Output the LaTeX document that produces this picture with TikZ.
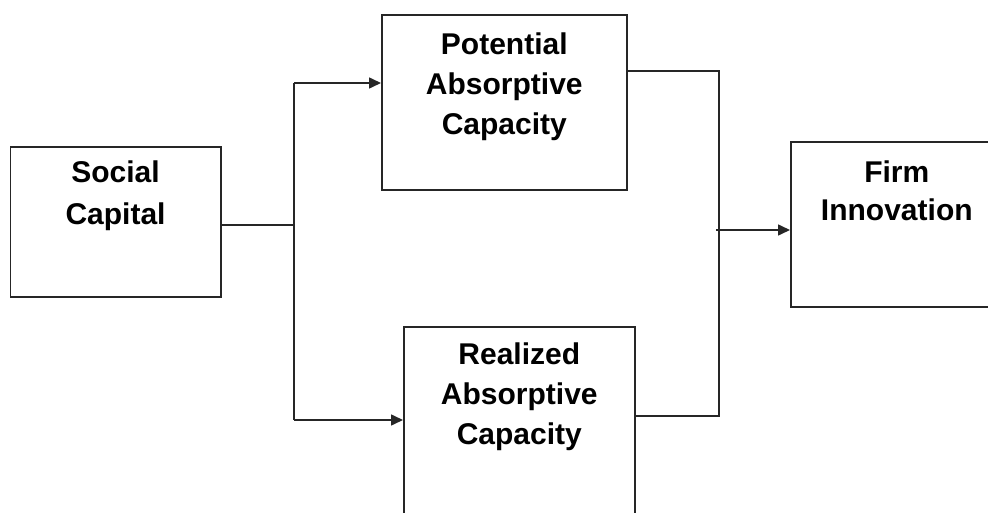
\documentclass[tikz,border=0pt]{standalone}
\usepackage{fontspec}
\setmainfont{Liberation Sans}
\usetikzlibrary{arrows.meta}
\begin{document}
\begin{tikzpicture}[x=1pt,y=-1pt,
  box/.style={draw=black!85, line width=1.6pt, rectangle, inner sep=0pt, anchor=north west},
  lbl/.style={anchor=north, align=center, inner sep=0pt, text=black,
    font=\fontsize{30}{40}\selectfont\bfseries},
  conn/.style={draw=black!85, line width=1.6pt},
  arr/.style={conn, -{Triangle[length=12pt,width=11pt]}}]
\useasboundingbox (0,0) rectangle (988,513);
\clip (0,0) rectangle (988,513);
% boxes
\node[box, minimum width=210.5pt, minimum height=150pt] (sc) at (9.5,146) {};
\node[box, minimum width=245pt, minimum height=175pt] (pac) at (381,14) {};
\node[box, minimum width=231pt, minimum height=240pt] (rac) at (403,326) {};
\node[box, minimum width=212pt, minimum height=165pt] (fi) at (790,141) {};
% labels
\node[lbl, font=\fontsize{30}{42}\selectfont\bfseries] (scl) at ([yshift=-15pt]sc.north) {Social\\Capital};
\node[lbl] (pacl) at ([yshift=-19pt]pac.north) {Potential\\Absorptive\\Capacity};
\node[lbl] (racl) at ([yshift=-17pt]rac.north) {Realized\\Absorptive\\Capacity};
\node[lbl, font=\fontsize{30}{38}\selectfont\bfseries] (fil) at ([yshift=-20pt]fi.north) {Firm\\Innovation};
% junction coordinates
\coordinate (j1) at (294,225);
\coordinate (jt) at (294,83);
\coordinate (jb) at (294,420);
\coordinate (k1) at (719,71);
\coordinate (k2) at (719,416);
\coordinate (k3) at (716,230);
% connectors
\draw[conn] (sc.east |- j1) -- (j1);
\draw[conn] (jt) -- (jb);
\draw[arr] (jt) -- (pac.west |- jt);
\draw[arr] (jb) -- (rac.west |- jb);
\draw[conn] (pac.east |- k1) -- (k1) -- (k2) -- (rac.east |- k2);
\draw[arr] (k3) -- (fi.west |- k3);
\end{tikzpicture}
\end{document}
